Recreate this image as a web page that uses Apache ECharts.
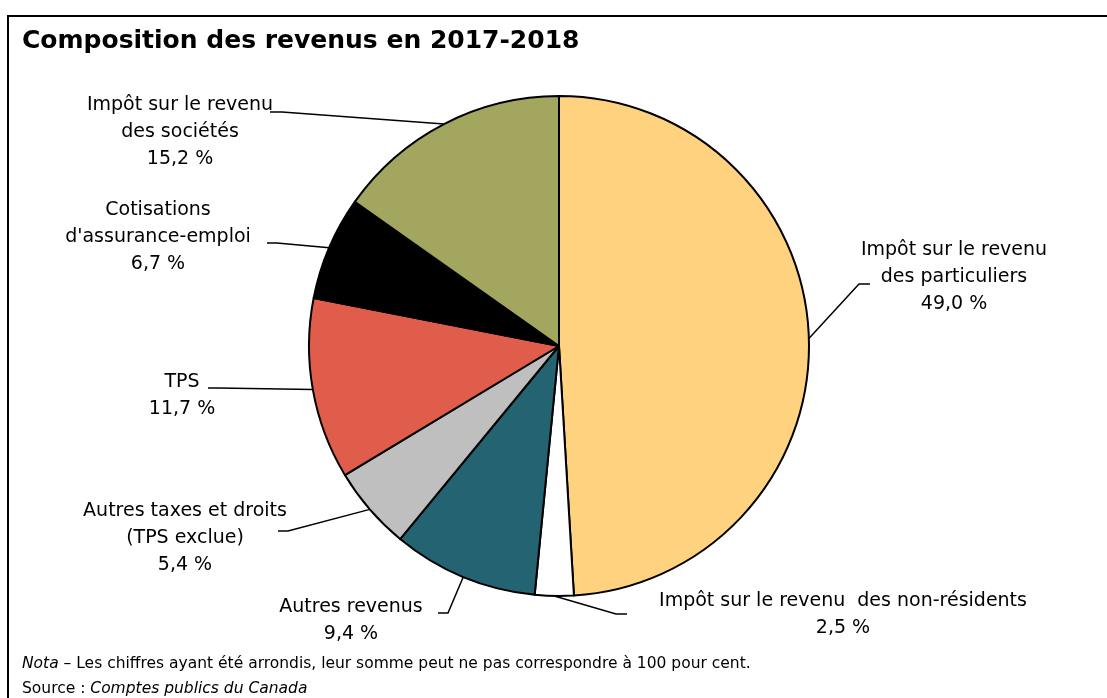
<!DOCTYPE html>
<html>
<head>
<meta charset="utf-8">
<script src="https://cdn.jsdelivr.net/npm/echarts@6/dist/echarts.min.js"></script>
<style>
  html, body { margin: 0; padding: 0; background: #fff; }
  #chart { width: 1107px; height: 698px; }
</style>
</head>
<body>
<div id="chart"></div>
<script>
// Revenue categories, clockwise from 12 o'clock
const categories = [
  'Impôt sur le revenu\ndes particuliers',
  'Impôt sur le revenu  des non-résidents',
  'Autres revenus',
  'Autres taxes et droits\n(TPS exclue)',
  'TPS',
  'Cotisations\nd\'assurance-emploi',
  'Impôt sur le revenu\ndes sociétés'
];
// Share of total revenue, in per cent
const shares = [49.0, 2.5, 9.4, 5.4, 11.7, 6.7, 15.2];

const sliceColors = ['#FFD27F', '#FFFFFF', '#236372', '#BFBFBF', '#E05D4B', '#000000', '#A2A65E'];

// Label block centre and leader-line elbow / end for each slice
const labelSpots = [
  { x: 954, y: 277, elbow: [859, 284], end: [870, 284] },
  { x: 843, y: 615, elbow: [616, 614], end: [627, 614] },
  { x: 351, y: 621, elbow: [448, 613], end: [438, 613] },
  { x: 185, y: 538, elbow: [288, 531], end: [278, 531] },
  { x: 182, y: 396, elbow: [218, 388], end: [208, 388] },
  { x: 158, y: 237, elbow: [277, 243], end: [267, 243] },
  { x: 180, y: 132, elbow: [282, 112], end: [270, 112] }
];

const FONT = '"DejaVu Sans", sans-serif';
const fmt = v => v.toFixed(1).replace('.', ',') + ' %';

const chart = echarts.init(document.getElementById('chart'), null, { renderer: 'canvas' });

chart.setOption({
  backgroundColor: '#fff',
  animation: false,
  graphic: [
    {
      type: 'rect',
      z: -10,
      shape: { x: 8, y: 16, width: 1300, height: 900 },
      style: { fill: 'none', stroke: '#000', lineWidth: 2 }
    },
    {
      type: 'text',
      x: 22, y: 41,
      style: {
        text: 'Composition des revenus en 2017-2018',
        font: 'bold 25px ' + FONT,
        fill: '#000',
        verticalAlign: 'middle'
      }
    },
    {
      type: 'text',
      x: 22, y: 664,
      style: {
        text: '{i|Nota} – Les chiffres ayant été arrondis, leur somme peut ne pas correspondre à 100 pour cent.',
        font: '15.5px ' + FONT,
        fill: '#000',
        verticalAlign: 'middle',
        rich: { i: { fontStyle: 'italic', fontSize: 15.5, fontFamily: FONT } }
      }
    },
    {
      type: 'text',
      x: 22, y: 689,
      style: {
        text: 'Source : {i|Comptes publics du Canada}',
        font: '15.5px ' + FONT,
        fill: '#000',
        verticalAlign: 'middle',
        rich: { i: { fontStyle: 'italic', fontSize: 15.5, fontFamily: FONT } }
      }
    }
  ],
  series: [{
    type: 'pie',
    center: [559, 346],
    radius: 250,
    startAngle: 90,
    clockwise: true,
    avoidLabelOverlap: false,
    emphasis: { disabled: true },
    data: categories.map((name, i) => ({
      name: name,
      value: shares[i],
      itemStyle: { color: sliceColors[i] }
    })),
    itemStyle: { borderColor: '#000', borderWidth: 2 },
    label: {
      show: true,
      position: 'outside',
      formatter: p => p.name + '\n' + fmt(p.value),
      color: '#000',
      fontFamily: FONT,
      fontSize: 19,
      lineHeight: 27,
      align: 'center'
    },
    labelLine: {
      show: true,
      length: 10,
      length2: 10,
      smooth: false,
      lineStyle: { color: '#000', width: 1.5 }
    },
    labelLayout: function (p) {
      const spot = labelSpots[p.dataIndex];
      const start = p.labelLinePoints ? p.labelLinePoints[0] : spot.elbow;
      return {
        x: spot.x,
        y: spot.y,
        align: 'center',
        verticalAlign: 'middle',
        labelLinePoints: [start, spot.elbow, spot.end]
      };
    }
  }]
});
</script>
</body>
</html>
